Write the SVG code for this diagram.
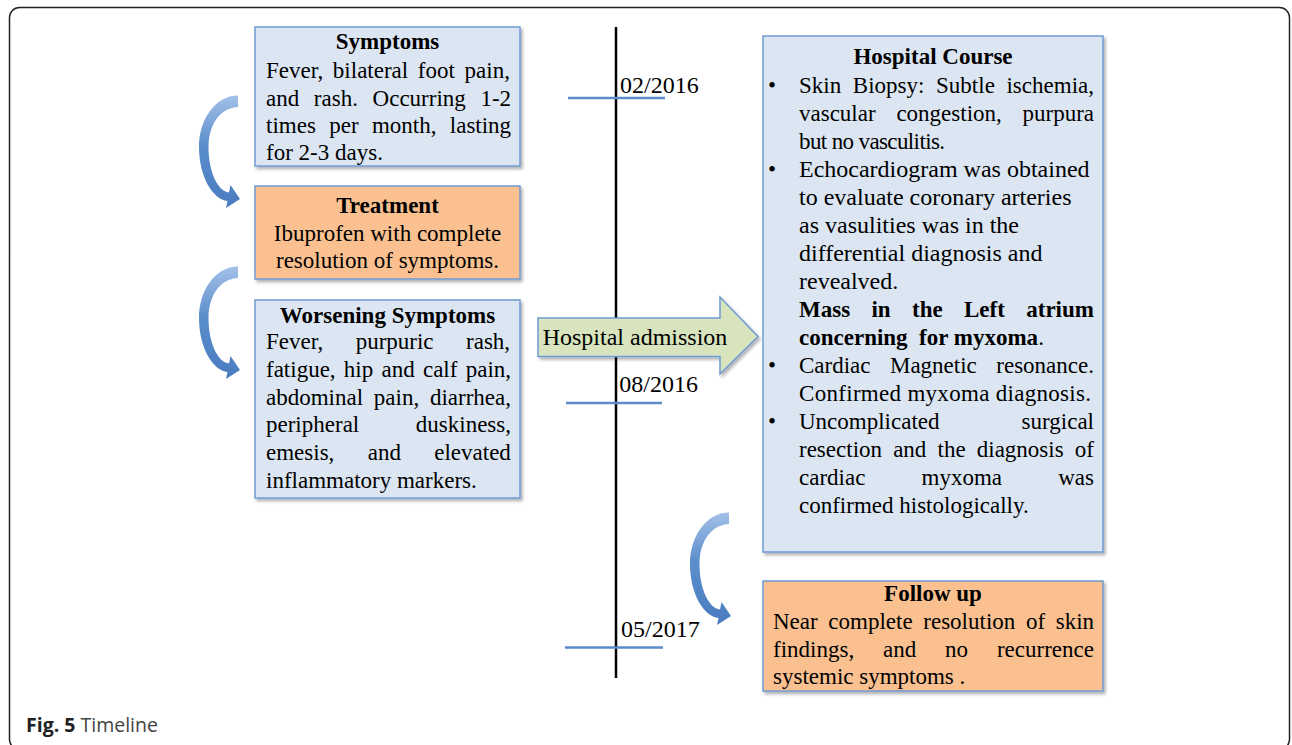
<svg xmlns="http://www.w3.org/2000/svg" width="1292" height="745" viewBox="0 0 1292 745">
<style>
.t{font-family:"Liberation Serif","Times New Roman",serif;font-size:23px;fill:#000}
.t24{font-size:24px}
.d{font-family:"Liberation Serif","Times New Roman",serif;font-size:24px;fill:#000}
.b{font-weight:bold}
.c{text-anchor:middle}
.e{text-anchor:end}
.blue{fill:#dce6f2;stroke:#6f9ad2;stroke-width:1.5}
.orange{fill:#fac090;stroke:#6f9ad2;stroke-width:1.5}
.tick{stroke:#5b8bc9;stroke-width:2.5}
</style>
<defs>
<filter id="sh" x="-5%" y="-5%" width="115%" height="115%">
<feDropShadow dx="2" dy="2.5" stdDeviation="1.5" flood-color="#000" flood-opacity="0.3"/>
</filter>
<linearGradient id="cg" x1="0" y1="0" x2="0" y2="1">
<stop offset="0" stop-color="#a3c0e8"/>
<stop offset="0.45" stop-color="#5a8dcb"/>
<stop offset="1" stop-color="#4a7cc0"/>
</linearGradient>
<path id="carrow" d="M238 95.5 C215 95.5 199 120 199 147 C199 177 213 199.5 227.5 201 L226 208 L240 199 L230.5 185 L229 192.5 C218.5 191.5 208.5 173 208.5 147 C208.5 124 221 107.5 238 107 Z" fill="url(#cg)"/>
</defs>
<rect width="1292" height="745" fill="#fff"/>
<rect x="9.5" y="7.5" width="1280" height="742" rx="10" fill="none" stroke="#222" stroke-width="1.5"/>

<g id="connectors">
<line x1="616" y1="27" x2="616" y2="678" stroke="#000" stroke-width="2.5"/>
<line class="tick" x1="568" y1="98" x2="665" y2="98"/>
<line class="tick" x1="566" y1="403" x2="662" y2="403"/>
<line class="tick" x1="565" y1="647.5" x2="663" y2="647.5"/>
<use href="#carrow"/>
<use href="#carrow" transform="translate(0,171)"/>
<use href="#carrow" transform="translate(491,417)"/>
</g>

<g id="dates">
<text class="d" x="620" y="92.7">02/2016</text>
<text class="d" x="619.3" y="391.7">08/2016</text>
<text class="d" x="621" y="637.3">05/2017</text>
</g>

<g id="symptoms">
<rect class="blue" x="255" y="27" width="265" height="139" filter="url(#sh)"/>
<text class="t b c" x="387.5" y="49">Symptoms</text>
<text class="t" x="266" y="78" word-spacing="3.9">Fever, bilateral foot pain,</text>
<text class="t" x="266" y="105.5" word-spacing="8.9">and rash. Occurring 1-2</text>
<text class="t" x="266" y="132.5" word-spacing="7.6">times per month, lasting</text>
<text class="t" x="266" y="159.5">for 2-3 days.</text>
</g>

<g id="treatment">
<rect class="orange" x="255" y="186" width="265" height="93" filter="url(#sh)"/>
<text class="t b c" x="387.5" y="212.7">Treatment</text>
<text class="t c" x="387.5" y="240.7">Ibuprofen with complete</text>
<text class="t c" x="387.5" y="268">resolution of symptoms.</text>
</g>

<g id="worsening">
<rect class="blue" x="255" y="300" width="265" height="198" filter="url(#sh)"/>
<text class="t b c" x="387.5" y="322.5">Worsening Symptoms</text>
<text class="t" x="266" y="349" word-spacing="26.7">Fever, purpuric rash,</text>
<text class="t" x="266" y="376.8" word-spacing="2.5">fatigue, hip and calf pain,</text>
<text class="t" x="266" y="404.5" word-spacing="5">abdominal pain, diarrhea,</text>
<text class="t" x="266" y="432.3">peripheral</text>
<text class="t e" x="511" y="432.3">duskiness,</text>
<text class="t" x="266" y="460" word-spacing="27.6">emesis, and elevated</text>
<text class="t" x="266" y="488">inflammatory markers.</text>
</g>

<g id="admission">
<path d="M538 318 L720 318 L720 297 L758 336.5 L720 374 L720 356.5 L538 356.5 Z" fill="#d7e4bd" stroke="#6f9ad2" stroke-width="1.5" filter="url(#sh)"/>
<text class="d c" x="635" y="345">Hospital admission</text>
</g>

<g id="hospital-course">
<rect class="blue" x="763" y="36" width="340" height="516" filter="url(#sh)"/>
<text class="t b c" x="933" y="63.5">Hospital Course</text>
<text class="t" x="768" y="92.7">•</text>
<text class="t" x="799" y="92.7" word-spacing="5.9">Skin Biopsy: Subtle ischemia,</text>
<text class="t" x="799" y="120.7" word-spacing="15">vascular congestion, purpura</text>
<text class="t" x="799" y="148.7" textLength="146" lengthAdjust="spacing">but no vasculitis.</text>
<text class="t" x="768" y="176.7">•</text>
<text class="t t24" x="799" y="176.7">Echocardiogram was obtained</text>
<text class="t t24" x="799" y="204.7">to evaluate coronary arteries</text>
<text class="t t24" x="799" y="232.7">as vasulities was in the</text>
<text class="t t24" x="799" y="260.7">differential diagnosis and</text>
<text class="t t24" x="799" y="288.7">revealved.</text>
<text class="t b" x="799" y="316.7" word-spacing="15.6">Mass in the Left atrium</text>
<text class="t" x="799" y="344.7"><tspan class="b">concerning&#160; for myxoma</tspan>.</text>
<text class="t" x="768" y="372.7">•</text>
<text class="t" x="799" y="372.7" word-spacing="13.7">Cardiac Magnetic resonance.</text>
<text class="t" x="799" y="400.7" textLength="292" lengthAdjust="spacing">Confirmed myxoma diagnosis.</text>
<text class="t" x="768" y="428.7">•</text>
<text class="t" x="799" y="428.7">Uncomplicated</text>
<text class="t e" x="1094" y="428.7">surgical</text>
<text class="t" x="799" y="456.7" word-spacing="5.4">resection and the diagnosis of</text>
<text class="t" x="799" y="484.7" word-spacing="50.4">cardiac myxoma was</text>
<text class="t" x="799" y="512.7">confirmed histologically.</text>
</g>

<g id="follow-up">
<rect class="orange" x="763" y="581" width="340" height="110" filter="url(#sh)"/>
<text class="t b c" x="933" y="600.5">Follow up</text>
<text class="t" x="773" y="629" word-spacing="4.9">Near complete resolution of skin</text>
<text class="t" x="773" y="656.7" word-spacing="23.1">findings, and no recurrence</text>
<text class="t" x="773" y="684.3">systemic symptoms .</text>
</g>

<g id="caption">
<text x="26" y="731.5" font-family="'Open Sans',sans-serif" font-size="19.5" fill="#444"><tspan font-weight="bold" fill="#222">Fig. 5</tspan> Timeline</text>
</g>
</svg>
